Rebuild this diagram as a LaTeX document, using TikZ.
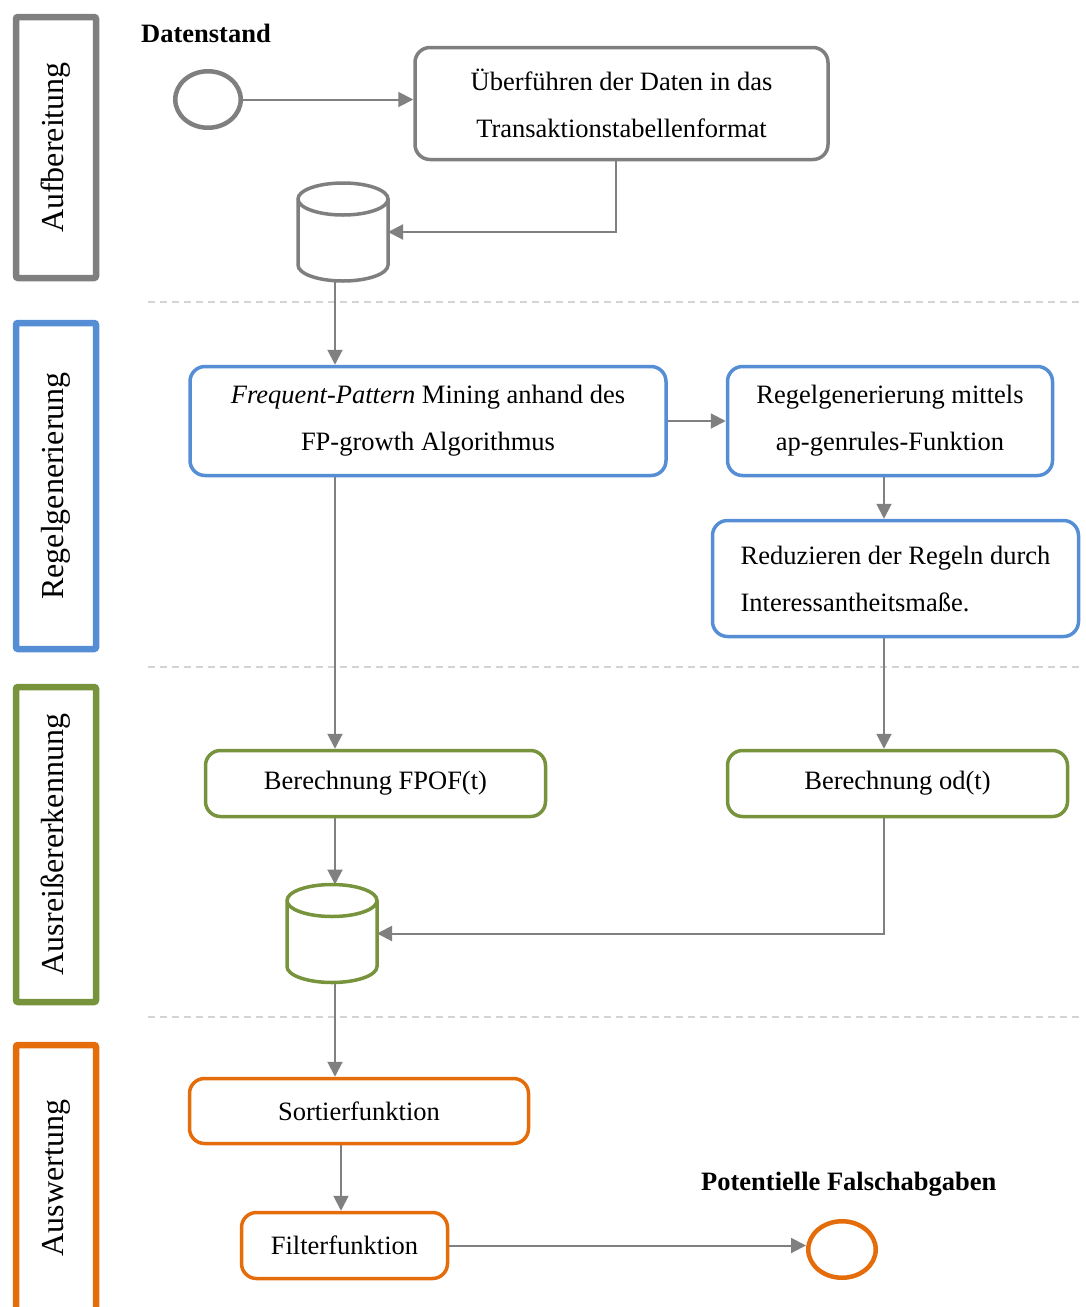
\documentclass[tikz,border=0pt]{standalone}
\usepackage{fontspec}
\setmainfont{Liberation Serif}
\usetikzlibrary{arrows.meta,shapes.geometric,calc}

\definecolor{lanegray}{HTML}{7F7F7F}
\definecolor{laneblue}{HTML}{558ED5}
\definecolor{lanegreen}{HTML}{77933C}
\definecolor{laneorange}{HTML}{E46C0A}
\definecolor{conngray}{HTML}{808080}
\definecolor{sepgray}{HTML}{D4D4D4}

% database cylinder drawn over an invisible placeholder node
\newcommand\drawdbcyl[2]{%
  \draw[#2, line width=3.5pt, fill=white]
    ([yshift=-16pt]#1.north west) -- ([yshift=16pt]#1.south west)
    arc[start angle=180, end angle=360, x radius=45pt, y radius=16pt]
    -- ([yshift=-16pt]#1.north east)
    arc[start angle=0, end angle=180, x radius=45pt, y radius=16pt]
    arc[start angle=180, end angle=360, x radius=45pt, y radius=16pt];}

\tikzset{
  txt/.style={font=\fontsize{26.5}{47}\selectfont},
  lane/.style={draw=#1, line width=6.5pt, rounded corners=2pt, rotate=90,
    minimum height=80pt, inner sep=0pt, font=\fontsize{32}{38}\selectfont},
  procbox/.style={draw=#1, line width=3.5pt, rounded corners=15pt, fill=white,
    inner sep=0pt, align=center, txt},
  cylslot/.style={rectangle, inner sep=0pt, outer sep=0pt,
    minimum width=90pt, minimum height=98pt},
  event/.style={ellipse, draw=#1, line width=4.5pt, inner sep=0pt},
  conn/.style={draw=conngray, line width=2pt,
    -{Triangle[length=15pt, width=15pt]}},
  sep/.style={draw=sepgray, line width=1.5pt, dash pattern=on 7pt off 5pt},
  title/.style={font=\bfseries\fontsize{26.5}{32}\selectfont, anchor=west, inner sep=0pt}
}

\begin{document}
\begin{tikzpicture}[x=1pt, y=-1pt]
\useasboundingbox (0,0) rectangle (1085,1307);
\clip (0,0) rectangle (1085,1307);

% swimlane labels
\node[lane=lanegray,   minimum width=261pt] (laneA) at (56,147.5) {Aufbereitung};
\node[lane=laneblue,   minimum width=326pt] (laneB) at (56,486)   {Regelgenerierung};
\node[lane=lanegreen,  minimum width=315pt] (laneC) at (56,844.5) {Ausreißererkennung};
\node[lane=laneorange, minimum width=266pt] (laneD) at (56,1178)  {Auswertung};

% lane separators
\draw[sep] (148,302)  -- (1080,302);
\draw[sep] (148,667)  -- (1080,667);
\draw[sep] (148,1017) -- (1080,1017);

% vertical guide positions for the connectors
\coordinate (spine) at (335,0);
\coordinate (upperdrop) at (616,0);
\coordinate (rspine) at (884,0);
\coordinate (fspine) at (341,0);

% titles
\node[title] (titleStart) at (141,33) {Datenstand};
\node[title] (titleEnd) at (701,1184) {Potentielle Falschabgaben};

% events
\node[event=lanegray, minimum width=65.5pt, minimum height=56.5pt] (start) at (208,99.5) {};
\node[event=laneorange, minimum width=67.5pt, minimum height=56.5pt] (finish) at (842,1249.5) {};

% process steps
\node[procbox=lanegray, minimum width=413pt, minimum height=112pt] (convert) at (621.5,103.5)
  {Überführen der Daten in das\\Transaktionstabellenformat};
\node[procbox=laneblue, minimum width=476pt, minimum height=109pt] (fpmine) at (428,421)
  {\textit{Frequent-Pattern} Mining anhand des\\FP-growth Algorithmus};
\node[procbox=laneblue, minimum width=325pt, minimum height=109pt] (rulegen) at (890,421)
  {Regelgenerierung mittels\\ap-genrules-Funktion};
\node[procbox=laneblue, minimum width=366pt, minimum height=116pt, align=left] (reduce) at (895.5,578.5)
  {Reduzieren der Regeln durch\\Interessantheitsmaße.};
\node[procbox=lanegreen, minimum width=340pt, minimum height=66pt] (fpof) at (375.5,783.5)
  {Berechnung FPOF(t)};
\node[procbox=lanegreen, minimum width=340pt, minimum height=66pt] (od) at (897.5,783.5)
  {Berechnung od(t)};
\node[procbox=laneorange, minimum width=339pt, minimum height=65pt] (sortfn) at (359,1111)
  {Sortierfunktion};
\node[procbox=laneorange, minimum width=206pt, minimum height=66pt] (filterfn) at (344.5,1245.5)
  {Filterfunktion};

% data stores
\node[cylslot] (store1) at (343,232) {};
\node[cylslot] (store2) at (332,933.5) {};

% connectors
\draw[conn] (start) -- (start -| convert.west);
\draw[conn] (convert.south -| upperdrop) |- (store1.east);
\draw[conn] (store1.south -| spine) -- (fpmine.north -| spine);
\draw[conn] (fpmine.east) -- (rulegen.west);
\draw[conn] (rulegen.south -| rspine) -- (reduce.north -| rspine);
\draw[conn] (fpmine.south -| spine) -- (fpof.north -| spine);
\draw[conn] (reduce.south -| rspine) -- (od.north -| rspine);
\draw[conn] (fpof.south -| spine) -- (store2.north -| spine);
\draw[conn] (od.south -| rspine) |- (store2.east);
\draw[conn] (store2.south -| spine) -- (sortfn.north -| spine);
\draw[conn] (sortfn.south -| fspine) -- (filterfn.north -| fspine);
\draw[conn] (filterfn.east) -- (filterfn.east -| finish.west);

\drawdbcyl{store1}{lanegray}
\drawdbcyl{store2}{lanegreen}
\end{tikzpicture}
\end{document}
